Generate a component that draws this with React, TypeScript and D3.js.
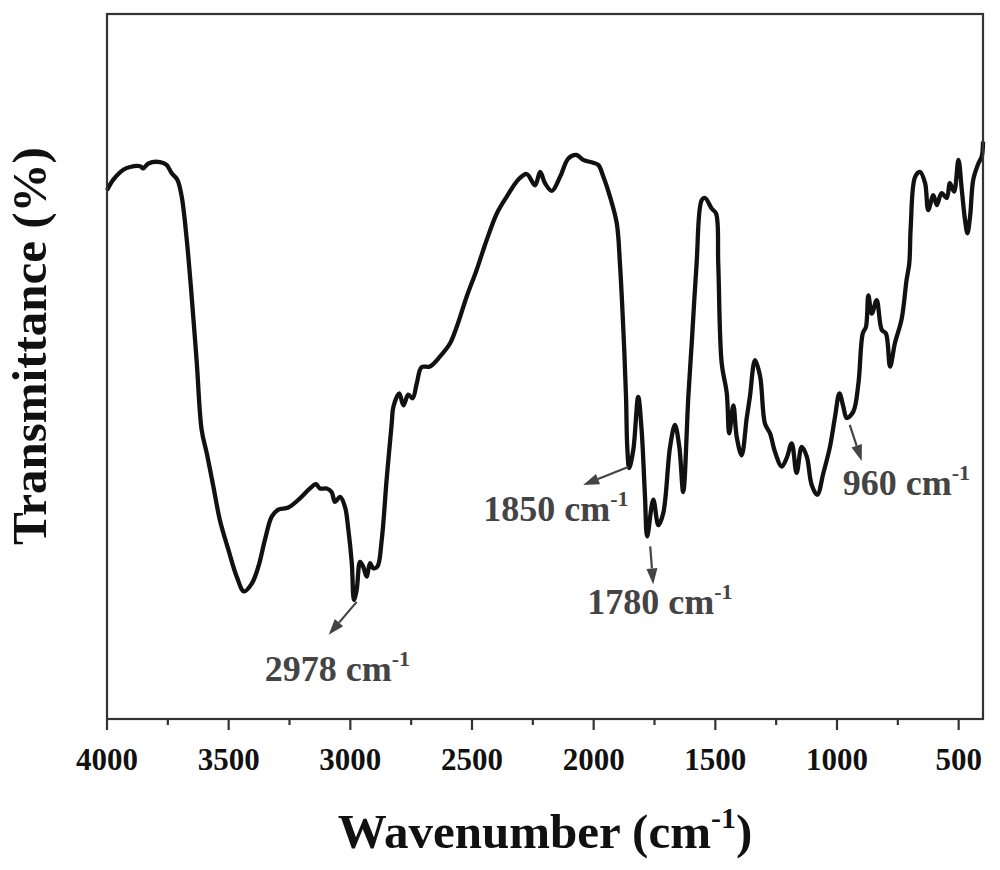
import React, { useEffect, useRef } from "react";
import * as d3 from "d3";

// FTIR spectrum (wavenumber in cm-1, transmittance in arbitrary %)
const wavenumbers = [
  4000, 3974, 3933, 3905, 3864, 3851, 3830, 3782, 3755, 3734, 3711, 3693, 3672, 3652, 3631, 3611,
  3590, 3563, 3536, 3501, 3467, 3437, 3405, 3378, 3351, 3323, 3296, 3255, 3207, 3166, 3141, 3125,
  3097, 3077, 3063, 3042, 3022, 3008, 2994, 2985, 2974, 2960, 2947, 2933, 2919, 2906, 2889, 2871,
  2851, 2830, 2823, 2799, 2782, 2762, 2744, 2727, 2707, 2673, 2632, 2590, 2563, 2522, 2481, 2440,
  2398, 2357, 2310, 2275, 2241, 2220, 2200, 2172, 2138, 2104, 2070, 2043, 2002, 1981, 1960, 1933,
  1905, 1892, 1878, 1867, 1862, 1854, 1837, 1817, 1803, 1789, 1780, 1755, 1734, 1714, 1686, 1666,
  1648, 1632, 1611, 1597, 1577, 1556, 1542, 1515, 1497, 1488, 1474, 1453, 1443, 1426, 1412, 1392,
  1371, 1358, 1337, 1316, 1296, 1275, 1255, 1227, 1207, 1186, 1166, 1145, 1124, 1104, 1081, 1056,
  1029, 1008, 990, 974, 960, 933, 912, 894, 881, 871, 857, 837, 816, 799, 782, 762,
  734, 714, 703, 697, 679, 659, 638, 625, 604, 590, 570, 549, 536, 519, 501, 487,
  474, 464, 453, 440, 419, 405, 400,
];
const transmittance = [
  75.0, 76.5, 77.9, 78.3, 78.4, 78.1, 78.8, 79.0, 78.6, 77.4, 76.5, 74.1, 67.9, 59.9, 50.5, 41.0,
  37.7, 33.0, 28.2, 24.0, 20.2, 18.1, 19.2, 21.6, 25.4, 28.7, 29.7, 30.0, 31.3, 32.7, 33.3, 32.7,
  32.7, 32.2, 30.8, 31.5, 30.1, 26.8, 22.1, 16.9, 18.3, 22.3, 21.6, 20.2, 22.1, 21.4, 21.6, 25.4,
  33.9, 41.9, 44.3, 46.2, 44.5, 46.0, 45.5, 47.6, 49.9, 50.0, 51.4, 53.3, 55.6, 59.9, 63.7, 67.9,
  71.7, 74.1, 76.5, 77.3, 75.7, 77.6, 76.0, 74.9, 76.9, 79.5, 80.0, 79.3, 78.9, 78.6, 76.9, 74.1,
  70.3, 64.6, 55.2, 45.7, 38.6, 35.6, 38.2, 45.7, 41.0, 31.5, 25.9, 31.1, 27.5, 29.2, 38.6, 41.7,
  38.6, 32.2, 45.7, 53.3, 64.6, 73.6, 73.9, 72.4, 71.7, 64.6, 50.5, 46.2, 40.5, 44.5, 40.0, 37.4,
  42.7, 45.7, 50.9, 48.6, 41.9, 40.5, 37.9, 35.8, 37.0, 39.1, 34.9, 38.6, 37.2, 33.2, 31.8, 34.9,
  38.6, 42.9, 46.2, 44.3, 42.7, 43.6, 47.6, 54.7, 55.6, 60.1, 57.5, 59.4, 55.2, 54.7, 50.0, 53.3,
  56.8, 62.3, 64.6, 69.8, 76.9, 77.6, 76.0, 72.2, 74.3, 72.9, 74.6, 73.9, 76.0, 74.8, 79.3, 75.0,
  70.8, 68.9, 71.3, 76.5, 78.8, 79.8, 81.9,
];

const xTicks = [4000, 3500, 3000, 2500, 2000, 1500, 1000, 500];
const xMinorTicks = [3750, 3250, 2750, 2250, 1750, 1250, 750];

const peakLabels = ["2978", "1850", "1780", "960"];
const peakWavenumbers = [2978, 1850, 1780, 960];
// transmittance at the curve minimum for each marked peak
const peakMinima = [16.9, 35.6, 25.9, 42.7];

// arrow start/tip offsets and label anchor, relative to each peak (px)
const peakLayout = [
  { sx: 1, sy: 2, tx: -27, ty: 35, lx: -91, ly: 81 },
  { sx: -2, sy: -1, tx: -47, ty: 17, lx: -147, ly: 53 },
  { sx: 3, sy: 10, tx: 6, ty: 48, lx: -60, ly: 78 },
  { sx: 3, sy: 7, tx: 15, ty: 43, lx: -4, ly: 77 },
];

const App = () => {
  const svgRef = useRef(null);
  const width = 1000;
  const height = 870;

  useEffect(() => {
    const margin = { top: 14, right: 17, bottom: 151, left: 107 };
    const svg = d3.select(svgRef.current);
    svg.selectAll("*").remove();

    const x = d3.scaleLinear().domain([4000, 400]).range([margin.left, width - margin.right]);
    const y = d3.scaleLinear().domain([0, 100]).range([height - margin.bottom, margin.top]);

    const font = "'Liberation Serif', 'Times New Roman', serif";

    svg.append("rect").attr("width", width).attr("height", height).attr("fill", "#fff");

    // spectrum
    const pts = wavenumbers.map((w, i) => [w, transmittance[i]]);
    const line = d3
      .line()
      .x((d) => x(d[0]))
      .y((d) => y(d[1]))
      .curve(d3.curveCatmullRom.alpha(0.5));

    svg
      .append("path")
      .datum(pts)
      .attr("d", line)
      .attr("fill", "none")
      .attr("stroke", "#111")
      .attr("stroke-width", 4.3)
      .attr("stroke-linejoin", "round");

    // frame
    svg
      .append("rect")
      .attr("x", margin.left)
      .attr("y", margin.top)
      .attr("width", width - margin.left - margin.right)
      .attr("height", height - margin.top - margin.bottom)
      .attr("fill", "none")
      .attr("stroke", "#333")
      .attr("stroke-width", 2.2);

    // bottom axis ticks
    const yb = height - margin.bottom;
    xTicks.forEach((t) => {
      svg
        .append("line")
        .attr("x1", x(t))
        .attr("x2", x(t))
        .attr("y1", yb)
        .attr("y2", yb + 11)
        .attr("stroke", "#333")
        .attr("stroke-width", 2.2);
      svg
        .append("text")
        .attr("x", x(t))
        .attr("y", yb + 51)
        .attr("text-anchor", "middle")
        .attr("font-family", font)
        .attr("font-weight", "bold")
        .attr("font-size", 31)
        .attr("fill", "#111")
        .text(t);
    });
    xMinorTicks.forEach((t) => {
      svg
        .append("line")
        .attr("x1", x(t))
        .attr("x2", x(t))
        .attr("y1", yb)
        .attr("y2", yb + 6)
        .attr("stroke", "#333")
        .attr("stroke-width", 2.2);
    });

    // axis titles
    const xt = svg
      .append("text")
      .attr("x", 545)
      .attr("y", 848)
      .attr("text-anchor", "middle")
      .attr("font-family", font)
      .attr("font-weight", "bold")
      .attr("font-size", 49)
      .attr("fill", "#111");
    xt.append("tspan").text("Wavenumber (cm");
    xt.append("tspan").attr("font-size", 30).attr("dy", -20).text("-1");
    xt.append("tspan").attr("dy", 20).text(")");

    svg
      .append("text")
      .attr("transform", "translate(46,346) rotate(-90)")
      .attr("text-anchor", "middle")
      .attr("font-family", font)
      .attr("font-weight", "bold")
      .attr("font-size", 49)
      .attr("fill", "#111")
      .text("Transmittance (%)");

    // peak annotations
    const grey = "#444";
    peakWavenumbers.forEach((w, i) => {
      const L = peakLayout[i];
      const px = x(w);
      const py = y(peakMinima[i]);
      const x1 = px + L.sx;
      const y1 = py + L.sy;
      const x2 = px + L.tx;
      const y2 = py + L.ty;
      const ang = Math.atan2(y2 - y1, x2 - x1);
      const hl = 16;
      const hw = 5.5;
      const bx = x2 - hl * Math.cos(ang);
      const by = y2 - hl * Math.sin(ang);
      svg
        .append("line")
        .attr("x1", x1)
        .attr("y1", y1)
        .attr("x2", bx)
        .attr("y2", by)
        .attr("stroke", grey)
        .attr("stroke-width", 2.2);
      svg
        .append("path")
        .attr(
          "d",
          `M${x2},${y2}L${bx - hw * Math.sin(ang)},${by + hw * Math.cos(ang)}L${bx + hw * Math.sin(ang)},${by - hw * Math.cos(ang)}Z`
        )
        .attr("fill", grey);

      const t = svg
        .append("text")
        .attr("x", px + L.lx)
        .attr("y", py + L.ly)
        .attr("font-family", font)
        .attr("font-weight", "bold")
        .attr("font-size", 36)
        .attr("fill", grey);
      t.append("tspan").text(`${peakLabels[i]} cm`);
      t.append("tspan").attr("font-size", 22).attr("dy", -15).text("-1");
    });
  }, []);

  return (
    <svg
      ref={svgRef}
      width={width}
      height={height}
      style={{ position: "absolute", left: 0, top: 0 }}
    ></svg>
  );
};

export default App;
